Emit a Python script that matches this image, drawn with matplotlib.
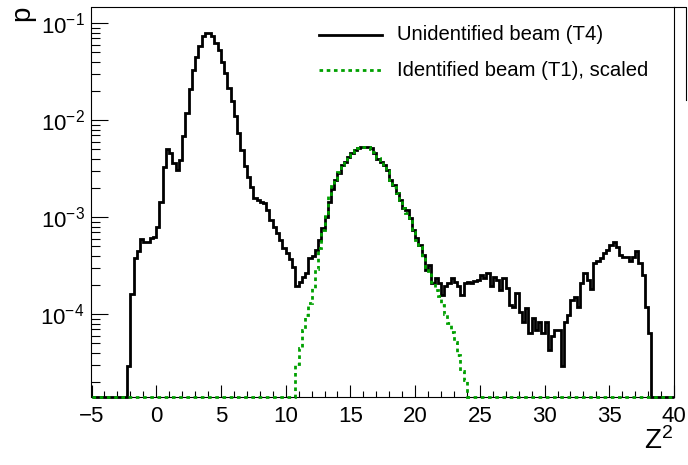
import numpy as np
import matplotlib
matplotlib.use("Agg")
import matplotlib.pyplot as plt
from matplotlib.lines import Line2D
from matplotlib.ticker import MultipleLocator, LogLocator, NullFormatter

plt.rcParams['font.family'] = ['Liberation Sans', 'DejaVu Sans']
plt.rcParams['mathtext.fontset'] = 'custom'
plt.rcParams['mathtext.rm'] = 'Liberation Sans'
plt.rcParams['mathtext.it'] = 'Liberation Sans:italic'

# histogram binning
bin_width = 0.25
x_min, x_max = -5.0, 40.0
y_min, y_max = 1.4e-5, 0.148

# Unidentified beam (T4): bins starting at Z^2 = -2.25
t4_first_edge = -2.25
t4_p = [
    2.9e-5, 1.6e-4, 3.8e-4, 4.5e-4, 5.9e-4, 5.6e-4, 5.5e-4, 6.1e-4, 6.3e-4, 8.0e-4,
    1.45e-3, 3.3e-3, 5.0e-3, 4.6e-3, 3.6e-3, 3.1e-3, 3.9e-3, 6.8e-3, 1.2e-2, 2.1e-2,
    3.3e-2, 4.5e-2, 5.8e-2, 7.4e-2, 7.9e-2, 7.9e-2, 7.3e-2, 6.2e-2, 5.3e-2, 4.0e-2,
    3.05e-2, 2.14e-2, 1.56e-2, 1.1e-2, 7.3e-3, 4.9e-3, 3.4e-3, 2.6e-3, 2.07e-3, 1.57e-3,
    1.51e-3, 1.45e-3, 1.39e-3, 1.19e-3, 9.4e-4, 8.0e-4, 6.8e-4, 5.8e-4, 4.8e-4, 4.25e-4,
    3.7e-4, 3.1e-4, 1.93e-4, 2.17e-4, 2.44e-4, 2.65e-4, 3.78e-4, 4.0e-4, 4.6e-4, 5.8e-4,
    7.7e-4, 1.01e-3, 1.45e-3, 1.94e-3, 2.43e-3, 2.88e-3, 3.46e-3, 3.74e-3, 4.21e-3, 4.63e-3,
    4.94e-3, 5.14e-3, 5.27e-3, 5.27e-3, 5.35e-3, 5.14e-3, 4.63e-3, 3.96e-3, 3.74e-3, 3.46e-3,
    3.08e-3, 2.43e-3, 2.15e-3, 1.77e-3, 1.51e-3, 1.24e-3, 1.19e-3, 9.8e-4, 7.4e-4, 6.1e-4,
    5.2e-4, 4.1e-4, 2.86e-4, 3.22e-4, 2.09e-4, 2.35e-4, 2.09e-4, 1.58e-4, 1.93e-4, 2.09e-4,
    2.35e-4, 2.17e-4, 1.93e-4, 1.58e-4, 2.09e-4, 2.17e-4, 2.1e-4, 2.2e-4, 2.26e-4, 2.54e-4,
    2.35e-4, 2.65e-4, 1.93e-4, 2.44e-4, 2.26e-4, 1.78e-4, 2.35e-4, 1.85e-4, 1.25e-4, 1.2e-4,
    1.64e-4, 1.06e-4, 8.4e-5, 1.15e-4, 6.4e-5, 9.1e-5, 6.9e-5, 8.4e-5, 6.4e-5, 8.4e-5,
    4.3e-5, 5.9e-5, 6.9e-5, 6.9e-5, 2.9e-5, 8.4e-5, 9.8e-5, 1.4e-4, 1.52e-4, 1.2e-4,
    2.09e-4, 2.65e-4, 2.26e-4, 1.81e-4, 3.36e-4, 3.57e-4, 3.78e-4, 4.25e-4, 4.6e-4, 5.18e-4,
    5.6e-4, 4.98e-4, 4.09e-4, 3.87e-4, 3.87e-4, 3.57e-4, 3.93e-4, 4.53e-4, 3.36e-4, 2.54e-4,
    1.2e-4, 6.4e-5,
]

# Identified beam (T1), scaled: bins starting at Z^2 = 10.75
t1_first_edge = 10.75
t1_p = [
    3.1e-5, 4.5e-5, 6.9e-5, 9.8e-5, 1.3e-4, 1.85e-4, 2.9e-4, 4.8e-4, 7.4e-4, 1.1e-3,
    1.65e-3, 2.1e-3, 2.5e-3, 2.95e-3, 3.45e-3, 3.8e-3, 4.25e-3, 4.65e-3, 4.95e-3, 5.15e-3,
    5.25e-3, 5.3e-3, 5.3e-3, 5.1e-3, 4.7e-3, 4.1e-3, 3.75e-3, 3.4e-3, 3.0e-3, 2.4e-3,
    2.07e-3, 1.77e-3, 1.5e-3, 1.24e-3, 1.1e-3, 9.2e-4, 7.1e-4, 5.8e-4, 4.9e-4, 3.9e-4,
    3.05e-4, 2.65e-4, 2.17e-4, 1.78e-4, 1.55e-4, 1.25e-4, 1.0e-4, 8.1e-5, 6.6e-5, 5.2e-5,
    3.8e-5, 2.6e-5, 2.1e-5,
]

legend_labels = ["Unidentified beam (T4)", "Identified beam (T1), scaled"]

edges = np.arange(x_min, x_max + bin_width / 2, bin_width)
n_bins = len(edges) - 1


def full_hist(first_edge, vals):
    h = np.zeros(n_bins)
    i0 = int(round((first_edge - x_min) / bin_width))
    h[i0:i0 + len(vals)] = vals
    return np.maximum(h, y_min)  # empty bins sit on the bottom of the frame, like ROOT


W, H = 688, 465
fig = plt.figure(figsize=(W / 100, H / 100), dpi=100)
ax = fig.add_axes([91.5 / W, 1 - 397 / H, (674 - 91.5) / W, (397 - 6.7) / H])

black = "black"
green = "#00a000"
ax.stairs(full_hist(t4_first_edge, t4_p), edges, baseline=None, color=black, lw=2.0,
          clip_on=False, zorder=3)
ax.stairs(full_hist(t1_first_edge, t1_p), edges, baseline=None, color=green, lw=2.0,
          linestyle=(0, (1.3, 1.3)), clip_on=False, zorder=4)

ax.set_yscale("log")
ax.set_xlim(x_min, x_max)
ax.set_ylim(y_min, y_max)

ax.xaxis.set_major_locator(MultipleLocator(5))
ax.xaxis.set_minor_locator(MultipleLocator(1))
ax.yaxis.set_major_locator(LogLocator(base=10))
ax.yaxis.set_minor_locator(LogLocator(base=10, subs=np.arange(2, 10)))
ax.yaxis.set_minor_formatter(NullFormatter())

ax.tick_params(axis="x", which="major", direction="in", length=8.6, width=0.8,
               labelsize=16, pad=6.5)
ax.tick_params(axis="x", which="minor", direction="in", length=4.3, width=0.8)
ax.tick_params(axis="y", which="major", direction="in", length=12.5, width=0.8,
               labelsize=16, pad=5)
ax.tick_params(axis="y", which="minor", direction="in", length=6.5, width=0.8)
for s in ax.spines.values():
    s.set_linewidth(0.8)

# axis titles placed ROOT style
fig.text(22 / W, 1 - 6 / H, "p", rotation=90, ha="center", va="top", fontsize=20)
fig.text(673 / W, 1 - 449 / H, "Z$^{2}$", ha="right", va="baseline", fontsize=20)

# legend
rows = [35, 70]
styles = [dict(color=black, lw=2.0), dict(color=green, lw=2.0, linestyle=(0, (1.3, 1.3)))]
for y, lab, st in zip(rows, legend_labels, styles):
    fig.add_artist(Line2D([319 / W, 382 / W], [1 - y / H] * 2, transform=fig.transFigure, **st))
    fig.text(397 / W, 1 - y / H, lab, ha="left", va="center", fontsize=14.6)
fig.add_artist(Line2D([674 / W, 685.5 / W, 685.5 / W], [1 - 6.7 / H, 1 - 6.7 / H, 1 - 100 / H],
                      transform=fig.transFigure, color="black", lw=0.8))

fig.savefig("out.png", dpi=100)
